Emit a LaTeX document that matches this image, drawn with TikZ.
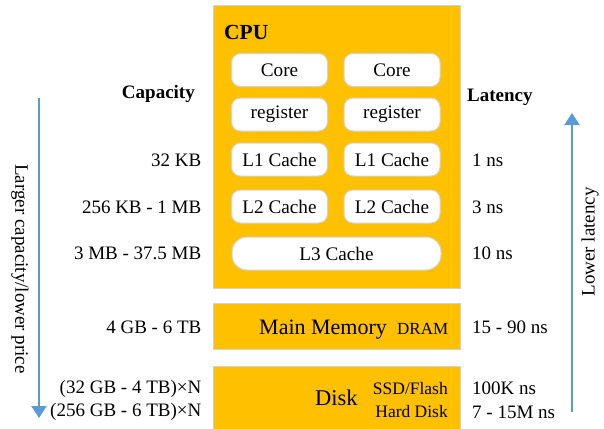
\documentclass[tikz,border=0pt]{standalone}
\usepackage{fontspec}
\setmainfont{Liberation Serif}
\usetikzlibrary{arrows.meta}
\definecolor{gold}{HTML}{FFC000}
\definecolor{edgegray}{HTML}{D2D2D2}
\definecolor{arrowblue}{HTML}{5B9BD5}
\begin{document}
\begin{tikzpicture}[x=1pt,y=-1pt,
  panel/.style={draw=edgegray, fill=gold, line width=1pt, anchor=north west, inner sep=0pt},
  unit/.style={draw=edgegray, fill=white, rounded corners=9pt, line width=1pt, minimum height=33pt, inner sep=0pt, font=\fontsize{19.2}{21}\selectfont},
  lbl/.style={inner sep=0pt, font=\fontsize{19}{21}\selectfont},
  hdr/.style={inner sep=0pt, font=\fontsize{19}{21}\selectfont\bfseries},
  bluearrow/.style={draw=arrowblue, line width=2.2pt, -{Triangle[width=15pt,length=12pt]}}]
\useasboundingbox (0,0) rectangle (604,428);
% panels
\node[panel, minimum width=247pt, minimum height=283pt] (cpu) at (213,5) {};
\node[panel, minimum width=247pt, minimum height=46pt] (mem) at (213,303) {};
\node[panel, minimum width=247pt, minimum height=70pt] (disk) at (213,366) {};
\node[anchor=west, inner sep=0pt, font=\fontsize{21.5}{24}\selectfont\bfseries] (cputxt) at (224,32) {CPU};
% units
\node[unit, minimum width=96pt] (core1) at (279.5,70) {Core};
\node[unit, minimum width=96pt] (core2) at (392,70) {Core};
\node[unit, minimum width=96pt] (reg1) at (279.5,114.5) {register};
\node[unit, minimum width=96pt] (reg2) at (392,114.5) {register};
\node[unit, minimum width=96pt] (l11) at (279.5,159.5) {L1 Cache};
\node[unit, minimum width=96pt] (l12) at (392,159.5) {L1 Cache};
\node[unit, minimum width=96pt] (l21) at (279.5,206.5) {L2 Cache};
\node[unit, minimum width=96pt] (l22) at (392,206.5) {L2 Cache};
\node[unit, minimum width=209pt, rounded corners=15pt] (l3) at (336.5,253.5) {L3 Cache};
% memory and disk labels
\node[anchor=base west, inner sep=0pt, font=\fontsize{22}{24}\selectfont] (memtxt) at (259,334) {Main Memory};
\node[anchor=base west, inner sep=0pt, font=\fontsize{17}{19}\selectfont] (dram) at (397,334) {DRAM};
\node[anchor=west, inner sep=0pt, font=\fontsize{22.5}{24}\selectfont] (disktxt) at (315,398) {Disk};
\node[anchor=east, inner sep=0pt, font=\fontsize{17.5}{19}\selectfont] (ssd) at (448,389) {SSD/Flash};
\node[anchor=east, inner sep=0pt, font=\fontsize{17.5}{19}\selectfont] (hdd) at (448,412) {Hard Disk};
% capacity
\node[hdr, anchor=east] (cap) at (195,94) {Capacity};
\node[lbl, anchor=east] (c1) at (201.5,160) {32 KB};
\node[lbl, anchor=east] (c2) at (201.5,207) {256 KB - 1 MB};
\node[lbl, anchor=east] (c3) at (201.5,253) {3 MB - 37.5 MB};
\node[lbl, anchor=east] (c4) at (201.5,327) {4 GB - 6 TB};
\node[lbl, anchor=east] (c5) at (201.5,389) {(32 GB - 4 TB)×N};
\node[lbl, anchor=east] (c6) at (201.5,412) {(256 GB - 6 TB)×N};
% latency
\node[hdr, anchor=west] (lat) at (467,97) {Latency};
\node[lbl, anchor=west] (t1) at (472,160) {1 ns};
\node[lbl, anchor=west] (t2) at (472,207) {3 ns};
\node[lbl, anchor=west] (t3) at (472,253) {10 ns};
\node[lbl, anchor=west] (t4) at (472,327) {15 - 90 ns};
\node[lbl, anchor=west] (t5) at (472,388) {100K ns};
\node[lbl, anchor=west] (t6) at (472,412) {7 - 15M ns};
% arrows
\coordinate (la1) at (39,98);
\coordinate (la2) at (39,418);
\draw[bluearrow] (la1) -- (la2);
\node[lbl, rotate=-90] (lalbl) at (20,269) {Larger capacity/lower price};
\coordinate (ra1) at (572,412);
\coordinate (ra2) at (572,113);
\draw[bluearrow] (ra1) -- (ra2);
\node[lbl, rotate=90] (ralbl) at (590,242) {Lower latency};
\end{tikzpicture}
\end{document}
